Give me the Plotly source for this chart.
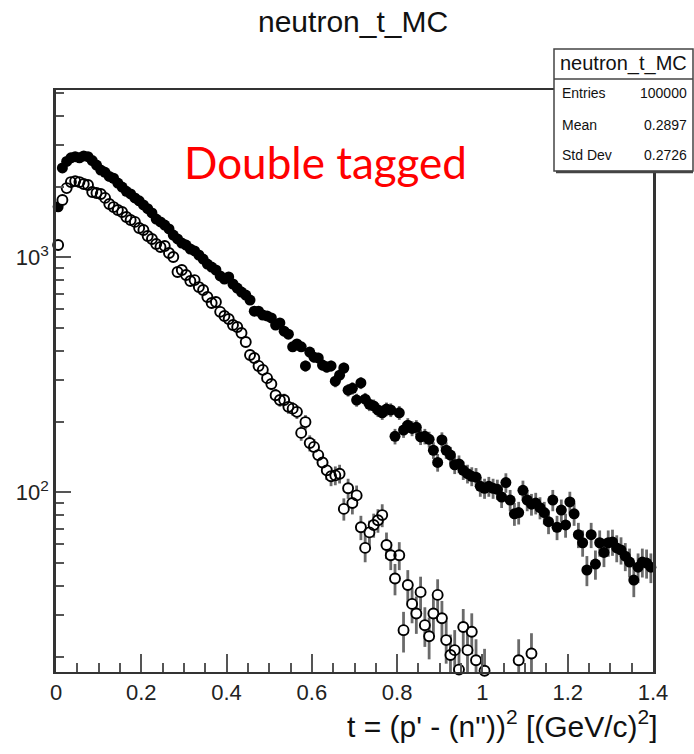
import math
import plotly.graph_objects as go

# Histogram binning: 140 bins of width 0.01 over 0 <= t < 1.4
bin_lo = 0.0
bin_width = 0.01
n_bins = 140
t_centers = [round(bin_lo + bin_width * (i + 0.5), 4) for i in range(n_bins)]

# Bin contents, all neutron-t events (filled markers)
counts_filled = [
    1640, 2400, 2560, 2650, 2680, 2650, 2700, 2680, 2580, 2470,
    2350, 2300, 2210, 2170, 2070, 1990, 1910, 1860, 1790, 1740,
    1670, 1610, 1545, 1455, 1415, 1372, 1320, 1244, 1197, 1150,
    1128, 1085, 1064, 1023, 983, 936, 909, 883, 833, 808,
    825, 770, 740, 711, 691, 658, 590, 590, 568, 563,
    552, 515, 526, 485, 471, 416, 428, 416, 345, 395,
    376, 373, 348, 341, 345, 297, 315, 338, 272, 277,
    247, 292, 249, 237, 233, 224, 218, 226, 224, 173,
    218, 184, 193, 187, 189, 172, 173, 168, 151, 134,
    167, 151, 144, 131, 132, 124, 120, 117, 116, 106,
    104, 106, 104, 103, 95.5, 110, 92.7, 81, 82, 102,
    92.7, 89, 90, 86, 82, 75, 92.7, 71, 84, 72.6,
    91, 81, 66, 61, 46.7, 66, 49.5, 61, 55.5, 61,
    61.5, 58, 56.8, 53.5, 50.5, 42.3, 48, 50.5, 50, 48,
]

# Bin contents, double-tagged events (open markers); None = empty bin
counts_open = [
    1128, 1753, 1970, 2090, 2110, 2090, 2050, 2031, 1897, 1878,
    1860, 1790, 1687, 1636, 1590, 1560, 1485, 1441, 1415, 1333,
    1307, 1232, 1197, 1139, 1107, 1117, 1043, 1003, 866, 883,
    841, 793, 800, 747, 726, 678, 639, 645, 586, 563,
    546, 515, 505, 476, 436, 384, 373, 345, 332, 306,
    289, 259, 247, 247, 231, 227, 220, 179, 199, 162,
    156, 144, 134, 124, 117, 118, 120, 85, 104, 90,
    97, 71, 58, 67.5, 72.6, 76, 80, 59.7, 54, 43,
    54, 25.9, 40.3, 33.5, 30.5, 37.6, 27.2, 24.4, 30.5, 36.6,
    29.1, 23.5, 20.3, 21.3, 17.6, 26.7, 21.3, 25.5, 19.3, None,
    17.4, None, None, None, None, None, None, None, 19.3, None,
    None, 20.6, None, None, None, None, None, None, None, None,
    None, None, None, None, None, None, None, None, None, None,
    None, None, None, None, None, None, None, None, None, None,
]

x_range = [0.0, 1.4]
y_range = [1.2353, 3.712]          # log10 of the visible count range
y_floor = 10 ** y_range[0]

x_tick_vals = [0, 0.2, 0.4, 0.6, 0.8, 1.0, 1.2, 1.4]
x_tick_text = ["0", "0.2", "0.4", "0.6", "0.8", "1", "1.2", "1.4"]
y_tick_vals = [100, 1000]
y_tick_text = ["10<sup>2</sup>", "10<sup>3</sup>"]
y_minor_vals = [20, 30, 40, 50, 60, 70, 80, 90,
                200, 300, 400, 500, 600, 700, 800, 900,
                2000, 3000, 4000, 5000]

stats_name = "neutron_t_MC"
stats_rows = [("Entries", "100000"), ("Mean", "0.2897"), ("Std Dev", "0.2726")]


def poisson_errors(vals):
    up, down = [], []
    for v in vals:
        if v is None:
            up.append(None)
            down.append(None)
        else:
            e = math.sqrt(v)
            up.append(e)
            down.append(min(e, v - y_floor))
    return up, down


err_f_up, err_f_dn = poisson_errors(counts_filled)
err_o_up, err_o_dn = poisson_errors(counts_open)

ERR_COLOR = "#6a6a6a"
FONT = "Liberation Sans, Arial, Helvetica, sans-serif"

fig = go.Figure()

fig.add_trace(go.Scatter(
    x=t_centers, y=counts_filled, mode="markers",
    marker=dict(symbol="circle", size=11, color="black"),
    error_y=dict(type="data", array=err_f_up, arrayminus=err_f_dn,
                 symmetric=False, color=ERR_COLOR, thickness=2.8, width=0),
    cliponaxis=False, showlegend=False,
))

# white discs carry the error bars so the bars stay hidden inside the circles
fig.add_trace(go.Scatter(
    x=t_centers, y=counts_open, mode="markers",
    marker=dict(symbol="circle", size=10, color="white", line=dict(width=0)),
    error_y=dict(type="data", array=err_o_up, arrayminus=err_o_dn,
                 symmetric=False, color=ERR_COLOR, thickness=2.8, width=0),
    cliponaxis=False, showlegend=False,
))
fig.add_trace(go.Scatter(
    x=t_centers, y=counts_open, mode="markers",
    marker=dict(symbol="circle-open", size=10, color="black",
                line=dict(width=1.9, color="black")),
    cliponaxis=False, showlegend=False,
))

# plot frame in pixels
L, R, T, B = 56, 653, 90, 672
W, H = 694, 754


def px(xp):
    return (xp - L) / (R - L)


def py(yp):
    return (B - yp) / (B - T)


fig.update_layout(
    width=W, height=H, autosize=False,
    margin=dict(l=L, r=W - R, t=T, b=H - B, pad=0),
    paper_bgcolor="white", plot_bgcolor="white",
    font=dict(family=FONT, color="black"),
    xaxis=dict(
        range=x_range, showgrid=False, zeroline=False,
        showline=True, linecolor="#333333", linewidth=2, mirror=True,
        tickmode="array", tickvals=x_tick_vals, ticktext=x_tick_text,
        ticks="inside", ticklen=18, tickwidth=2, tickcolor="#555555",
        minor=dict(dtick=0.05, tick0=0, ticks="inside", ticklen=9,
                   tickwidth=2, tickcolor="#555555", showgrid=False),
        tickfont=dict(size=22, color="#222222"),
    ),
    yaxis=dict(
        type="log", range=y_range, showgrid=False, zeroline=False,
        showline=True, linecolor="#333333", linewidth=2.5, mirror=True,
        tickmode="array", tickvals=y_tick_vals, ticktext=y_tick_text,
        ticks="inside", ticklen=15, tickwidth=2, tickcolor="#555555",
        minor=dict(tickmode="array", tickvals=y_minor_vals, ticks="inside",
                   ticklen=8, tickwidth=2, tickcolor="#555555", showgrid=False),
        tickfont=dict(size=22, color="#222222"),
    ),
)

annotations = [
    dict(text="neutron_t_MC", x=px(353), y=py(22), xref="paper", yref="paper",
         xanchor="center", yanchor="middle", showarrow=False,
         font=dict(size=30, family=FONT, color="#111111")),
    dict(text="t = (p' - (n\"))<sup>2</sup> [(GeV/c)<sup>2</sup>]",
         x=px(660), y=py(724), xref="paper", yref="paper",
         xanchor="right", yanchor="middle", showarrow=False,
         font=dict(size=30, family=FONT, color="#111111")),
    dict(text="Double tagged", x=px(325), y=py(162), xref="paper", yref="paper",
         xanchor="center", yanchor="middle", showarrow=False,
         font=dict(size=44, family="Lato, Open Sans, sans-serif", color="#ff0000")),
]

# statistics box
box_l, box_r, box_t, box_sep, box_b = 554, 693, 49, 79, 171
shapes = [
    dict(type="rect", xref="paper", yref="paper",
         x0=px(box_l), x1=px(box_r), y0=py(box_b), y1=py(box_t),
         fillcolor="white", line=dict(color="#444444", width=1.5), layer="above"),
    dict(type="line", xref="paper", yref="paper",
         x0=px(box_l), x1=px(box_r), y0=py(box_sep), y1=py(box_sep),
         line=dict(color="#444444", width=1.5), layer="above"),
    dict(type="line", xref="paper", yref="paper",
         x0=px(box_l + 2), x1=px(box_r), y0=py(box_b + 1), y1=py(box_b + 1),
         line=dict(color="#444444", width=2.5), layer="above"),
]
annotations.append(dict(
    text=stats_name, x=px((box_l + box_r) / 2), y=py((box_t + box_sep) / 2),
    xref="paper", yref="paper", xanchor="center", yanchor="middle",
    showarrow=False, font=dict(size=20, family=FONT, color="#111111")))
row_y = [93, 125, 155]
for (label, value), yy in zip(stats_rows, row_y):
    annotations.append(dict(
        text=label, x=px(560), y=py(yy), xref="paper", yref="paper",
        xanchor="left", yanchor="middle", showarrow=False,
        font=dict(size=14, family=FONT, color="#111111")))
    annotations.append(dict(
        text=value, x=px(689), y=py(yy), xref="paper", yref="paper",
        xanchor="right", yanchor="middle", showarrow=False,
        font=dict(size=14, family=FONT, color="#111111")))

fig.update_layout(annotations=annotations, shapes=shapes)

fig.write_html("out.html")
